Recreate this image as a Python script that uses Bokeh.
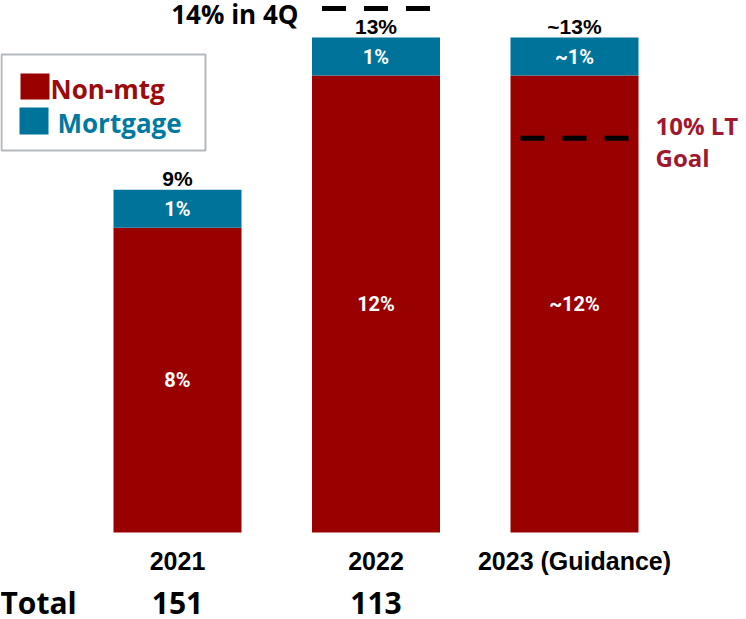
from bokeh.plotting import figure
from bokeh.models import ColumnDataSource, Range1d
from bokeh.core.properties import value
from bokeh.embed import file_html
from bokeh.resources import INLINE

# ---- data ----
years = ["2021", "2022", "2023 (Guidance)"]
non_mtg = [8, 12, 12]
mortgage = [1, 1, 1]
non_mtg_labels = ["8%", "12%", "~12%"]
mortgage_labels = ["1%", "1%", "~1%"]
total_labels = ["9%", "13%", "~13%"]
total_counts = ["151", "113", ""]
q4_level = 13.76       # "14% in 4Q" marker (2022)
lt_goal_level = 10.35  # "10% LT Goal" marker (2023)

# ---- geometry helpers (canvas pixels -> data) ----
W, H = 746, 619
PX_PER_X = 198.5
X0_PX = 177.0
PX_PER_Y = 38.08
Y0_PX = 532.0  # distance from top of canvas to value 0


def dx(px):
    return px / PX_PER_X


def dy(px):
    return px / PX_PER_Y


def cx(px):
    return (px - X0_PX) / PX_PER_X


def cy(px_from_top):
    return (Y0_PX - px_from_top) / PX_PER_Y


xs = list(range(len(years)))
totals = [a + b for a, b in zip(non_mtg, mortgage)]

p = figure(width=W, height=H, output_backend="svg", toolbar_location=None,
           x_range=Range1d(cx(0), cx(W)), y_range=Range1d(cy(H), cy(0)),
           min_border=0, outline_line_color=None)
p.axis.visible = False
p.grid.visible = False
p.background_fill_color = "white"
p.border_fill_color = "white"

RED = "#990000"
BLUE = "#00739a"

src = ColumnDataSource(dict(x=xs, non_mtg=non_mtg, mortgage=mortgage,
                            nm_mid=[v / 2 for v in non_mtg],
                            m_mid=[a + b / 2 for a, b in zip(non_mtg, mortgage)],
                            nm_lab=non_mtg_labels, m_lab=mortgage_labels))

p.vbar_stack(["non_mtg", "mortgage"], x="x", width=dx(128), source=src,
             color=[RED, BLUE], line_color=None)

bold_white = dict(text_color="white", text_font=value("Roboto"), text_font_style="bold",
                  text_font_size="20px", text_align="center", text_baseline="middle")
p.text(x="x", y="nm_mid", text="nm_lab", source=src, **bold_white)
p.text(x="x", y="m_mid", text="m_lab", source=src, **bold_white)

# totals above bars (centre ~10px above bar top)
src_t = ColumnDataSource(dict(x=xs, y=[t + dy(11) for t in totals], t=total_labels))
p.text(x="x", y="y", text="t", source=src_t, text_color="black",
       text_font=value("Liberation Sans"), text_font_style="bold", text_font_size="21px",
       text_align="center", text_baseline="middle")

# year labels
src_y = ColumnDataSource(dict(x=xs, y=[cy(560)] * 3, t=years))
p.text(x="x", y="y", text="t", source=src_y, text_color="black",
       text_font=value("Liberation Sans"), text_font_style="bold", text_font_size="25px",
       text_align="center", text_baseline="middle")

# Total row
src_c = ColumnDataSource(dict(x=xs, y=[cy(602)] * 3, t=total_counts))
p.text(x="x", y="y", text="t", source=src_c, text_color="black",
       text_font=value("Open Sans"), text_font_style="bold", text_font_size="30px",
       text_align="center", text_baseline="middle")
p.text(x=[cx(0)], y=[cy(602)], text=["Total"], text_color="black",
       text_font=value("Open Sans"), text_font_style="bold", text_font_size="30px",
       text_align="left", text_baseline="middle")

# dashed markers
half = dx(54)
p.segment(x0=[xs[1] - half], y0=[q4_level], x1=[xs[1] + half], y1=[q4_level],
          line_color="black", line_width=5, line_dash="24 18", line_cap="butt")
p.segment(x0=[xs[2] - half], y0=[lt_goal_level], x1=[xs[2] + half], y1=[lt_goal_level],
          line_color="black", line_width=5, line_dash="24 18", line_cap="butt")

p.text(x=[cx(298)], y=[cy(13)], text=["14% in 4Q"], text_color="black",
       text_font=value("Open Sans"), text_font_style="bold", text_font_size="26px",
       text_align="right", text_baseline="middle")

GOAL = "#a0182f"
p.text(x=[cx(655)], y=[cy(125)], text=["10% LT"], text_color=GOAL,
       text_font=value("Open Sans"), text_font_style="bold", text_font_size="24px",
       text_align="left", text_baseline="middle")
p.text(x=[cx(655)], y=[cy(157)], text=["Goal"], text_color=GOAL,
       text_font=value("Open Sans"), text_font_style="bold", text_font_size="24px",
       text_align="left", text_baseline="middle")

# legend
p.quad(left=[cx(1)], right=[cx(205)], top=[cy(54)], bottom=[cy(150)],
       fill_color=None, line_color="#b4b8bc", line_width=2)
p.quad(left=[cx(20)], right=[cx(49)], top=[cy(73)], bottom=[cy(99)],
       fill_color=RED, line_color=None)
p.quad(left=[cx(19)], right=[cx(48)], top=[cy(107)], bottom=[cy(134)],
       fill_color=BLUE, line_color=None)
p.text(x=[cx(50)], y=[cy(88)], text=["Non-mtg"], text_color="#9c0a0c",
       text_font=value("Open Sans"), text_font_style="bold", text_font_size="26px",
       text_align="left", text_baseline="middle")
p.text(x=[cx(57)], y=[cy(122)], text=["Mortgage"], text_color="#007aa0",
       text_font=value("Open Sans"), text_font_style="bold", text_font_size="26px",
       text_align="left", text_baseline="middle")

open("out.html", "w").write(file_html(p, INLINE))
